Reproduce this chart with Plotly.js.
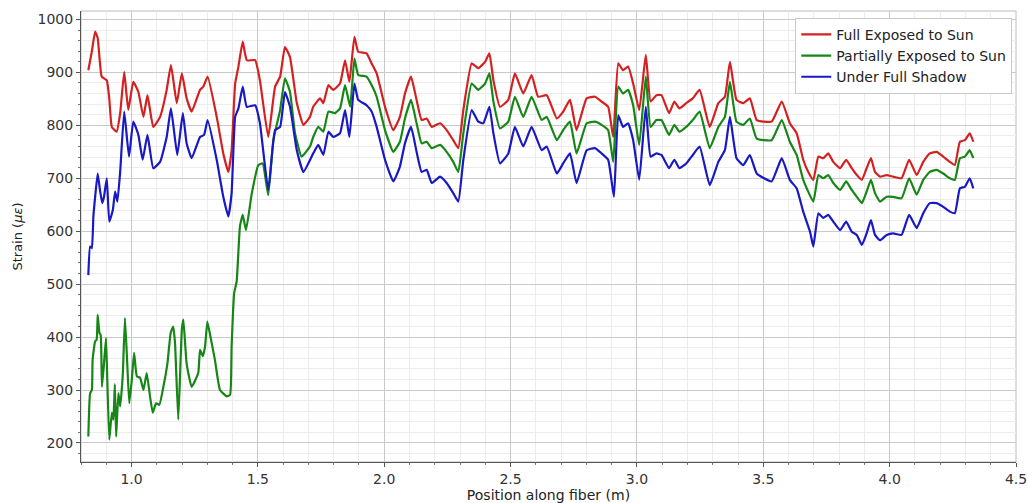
<!DOCTYPE html>
<html>
<head>
<meta charset="utf-8">
<script src="https://cdn.plot.ly/plotly-3.0.1.min.js"></script>
<style>
  html, body { margin: 0; padding: 0; background: #ffffff; }
  #chart { width: 1028px; height: 503px; }
</style>
</head>
<body>
<div id="chart"></div>
<script>
// ---- Data ----
const seriesNames = ["Full Exposed to Sun", "Partially Exposed to Sun", "Under Full Shadow"];

const xFull = [0.829,0.843,0.856,0.866,0.882,0.902,0.912,0.922,0.941,0.955,0.971,0.987,1.007,1.027,1.047,1.063,1.086,1.113,1.139,1.156,1.179,1.199,1.218,1.238,1.271,1.284,1.301,1.337,1.363,1.383,1.396,1.410,1.423,1.440,1.456,1.489,1.508,1.541,1.568,1.588,1.607,1.627,1.654,1.680,1.706,1.719,1.746,1.759,1.779,1.798,1.825,1.845,1.862,1.882,1.897,1.930,1.950,1.970,2.003,2.036,2.062,2.082,2.106,2.128,2.148,2.168,2.188,2.221,2.247,2.273,2.293,2.313,2.346,2.372,2.399,2.416,2.432,2.458,2.491,2.517,2.550,2.583,2.609,2.643,2.683,2.708,2.735,2.761,2.801,2.834,2.860,2.886,2.906,2.926,2.945,2.965,2.985,3.009,3.035,3.054,3.077,3.097,3.127,3.148,3.168,3.195,3.221,3.248,3.288,3.322,3.348,3.368,3.394,3.421,3.447,3.474,3.533,3.573,3.605,3.632,3.658,3.678,3.698,3.718,3.737,3.757,3.777,3.804,3.828,3.850,3.870,3.890,3.909,3.926,3.942,3.962,3.988,4.014,4.047,4.077,4.107,4.133,4.159,4.186,4.212,4.238,4.258,4.278,4.298,4.317,4.331];
const yFull = [904,940,977,965,892,885,850,797,788,823,901,829,882,863,816,857,797,816,867,914,842,898,851,826,867,873,892,816,747,712,753,879,911,958,923,923,885,778,873,892,948,929,842,801,816,835,851,842,876,867,879,923,882,967,939,936,917,898,835,791,816,860,892,848,810,813,797,804,791,772,757,829,917,908,920,936,885,835,848,898,860,895,854,857,813,826,848,791,851,854,845,835,778,917,904,911,879,829,933,845,857,857,823,845,832,842,851,867,797,842,854,920,848,842,851,810,807,845,804,785,735,712,697,741,738,747,731,719,735,719,706,697,719,738,712,703,706,703,700,735,706,731,747,750,741,731,725,769,772,785,769];

const xPartial = [0.829,0.836,0.843,0.846,0.856,0.862,0.866,0.873,0.878,0.883,0.891,0.899,0.904,0.912,0.922,0.928,0.934,0.939,0.948,0.955,0.965,0.974,0.983,0.991,1.001,1.010,1.021,1.034,1.047,1.060,1.073,1.084,1.097,1.110,1.126,1.142,1.155,1.165,1.172,1.185,1.199,1.205,1.218,1.238,1.264,1.271,1.282,1.291,1.300,1.317,1.330,1.350,1.377,1.390,1.396,1.406,1.416,1.429,1.440,1.453,1.476,1.502,1.519,1.541,1.561,1.588,1.607,1.627,1.647,1.673,1.706,1.719,1.739,1.759,1.779,1.805,1.825,1.845,1.865,1.882,1.897,1.930,1.950,1.970,2.003,2.036,2.062,2.082,2.106,2.128,2.148,2.168,2.188,2.221,2.247,2.273,2.293,2.313,2.346,2.372,2.399,2.416,2.432,2.458,2.491,2.517,2.550,2.583,2.623,2.643,2.683,2.708,2.735,2.761,2.801,2.834,2.860,2.886,2.906,2.926,2.945,2.965,2.985,3.009,3.035,3.054,3.077,3.097,3.127,3.148,3.168,3.195,3.221,3.248,3.288,3.322,3.348,3.368,3.394,3.421,3.447,3.474,3.533,3.573,3.605,3.632,3.658,3.698,3.718,3.737,3.757,3.777,3.804,3.828,3.850,3.870,3.890,3.909,3.926,3.942,3.962,3.988,4.014,4.047,4.077,4.107,4.133,4.159,4.186,4.212,4.238,4.258,4.278,4.298,4.317,4.331];
const yPartial = [212,294,300,357,392,395,442,408,404,306,350,398,319,206,257,244,311,212,294,269,326,436,350,275,319,370,326,323,300,332,288,257,275,272,306,350,408,420,389,244,414,433,350,306,332,376,364,382,429,389,357,300,288,291,382,483,505,609,631,602,672,725,728,668,772,829,889,863,785,741,760,778,797,788,826,823,832,876,835,926,895,892,876,854,791,750,769,813,848,804,766,769,757,763,750,731,712,785,879,867,879,898,845,794,807,854,816,854,810,816,772,791,807,747,804,807,801,791,731,873,860,867,838,763,892,797,810,810,782,801,788,797,810,826,757,797,816,882,807,801,813,775,772,810,769,744,697,656,706,700,706,691,678,694,678,665,653,675,697,672,656,665,665,662,700,669,697,712,716,709,700,697,738,741,753,738];

const xShadow = [0.829,0.836,0.843,0.849,0.856,0.866,0.875,0.884,0.891,0.902,0.912,0.926,0.935,0.944,0.955,0.971,0.990,1.007,1.027,1.044,1.063,1.086,1.113,1.139,1.156,1.181,1.203,1.218,1.238,1.271,1.287,1.301,1.337,1.363,1.383,1.396,1.410,1.423,1.440,1.456,1.489,1.508,1.541,1.568,1.588,1.607,1.627,1.654,1.680,1.719,1.739,1.759,1.779,1.798,1.825,1.845,1.862,1.882,1.897,1.930,1.950,1.970,2.003,2.036,2.062,2.082,2.106,2.128,2.148,2.168,2.188,2.221,2.247,2.273,2.293,2.313,2.346,2.372,2.392,2.416,2.432,2.458,2.491,2.517,2.550,2.583,2.623,2.643,2.683,2.708,2.735,2.761,2.801,2.834,2.860,2.886,2.909,2.926,2.945,2.965,2.985,3.009,3.035,3.054,3.077,3.097,3.127,3.148,3.168,3.195,3.221,3.248,3.288,3.322,3.348,3.368,3.394,3.421,3.447,3.474,3.533,3.573,3.605,3.632,3.658,3.685,3.698,3.718,3.737,3.757,3.777,3.804,3.828,3.850,3.870,3.890,3.909,3.926,3.942,3.962,3.988,4.014,4.047,4.077,4.107,4.133,4.159,4.186,4.212,4.238,4.258,4.278,4.298,4.317,4.331];
const yShadow = [517,571,568,628,665,709,678,653,665,700,618,640,675,656,712,826,741,807,782,735,782,719,731,778,832,744,823,766,738,778,782,810,735,665,628,672,816,832,873,835,838,804,678,791,797,863,835,753,712,747,763,744,788,778,785,829,778,879,848,838,826,797,735,694,722,766,797,750,712,716,691,703,691,672,656,735,829,807,804,835,785,728,747,797,760,797,753,760,709,728,747,691,753,757,747,735,665,819,797,804,772,697,835,741,747,744,719,735,719,728,744,760,687,731,753,816,738,725,744,709,694,738,697,681,637,599,571,634,625,631,618,602,618,599,593,574,596,621,593,583,593,596,593,631,606,634,653,653,646,637,634,681,684,700,681];

const xTickVals = [1.0, 1.5, 2.0, 2.5, 3.0, 3.5, 4.0, 4.5];
const yTickVals = [200, 300, 400, 500, 600, 700, 800, 900, 1000];

const colors = ["#d42020", "#168616", "#1818c4"];

// ---- Chart ----
const traces = [
  { x: xFull, y: yFull, name: seriesNames[0] },
  { x: xPartial, y: yPartial, name: seriesNames[1] },
  { x: xShadow, y: yShadow, name: seriesNames[2] }
].map((t, i) => Object.assign(t, {
  type: "scatter", mode: "lines",
  line: { color: colors[i], width: 2.2, shape: "spline", smoothing: 0.4 }
}));

const font = "DejaVu Sans, sans-serif";

const layout = {
  width: 1028, height: 503,
  margin: { l: 81, r: 12, t: 11, b: 41 },
  paper_bgcolor: "#ffffff",
  plot_bgcolor: "#ffffff",
  font: { family: font, size: 14, color: "#333333" },
  showlegend: true,
  legend: {
    x: 0.996, y: 0.985, xanchor: "right", yanchor: "top",
    bgcolor: "#ffffff", bordercolor: "#c8c8c8", borderwidth: 1,
    font: { family: font, size: 14, color: "#222222" },
    tracegroupgap: 0
  },
  xaxis: {
    range: [0.8, 4.5],
    tickvals: xTickVals,
    ticktext: xTickVals.map(v => v.toFixed(1)),
    ticks: "outside", ticklen: 4, tickcolor: "#555555",
    showline: true, linecolor: "#555555", linewidth: 1,
    showgrid: true, gridcolor: "#c9c9c9", gridwidth: 1,
    zeroline: false,
    tickfont: { family: font, size: 14, color: "#333333" },
    minor: { dtick: 0.1, ticks: "outside", ticklen: 2, tickcolor: "#777777", showgrid: true, gridcolor: "#ececec", gridwidth: 1 },
    title: { text: "Position along fiber (m)", font: { family: font, size: 14, color: "#222222" }, standoff: 2 }
  },
  yaxis: {
    range: [164, 1016],
    tickvals: yTickVals,
    ticks: "outside", ticklen: 4, tickcolor: "#555555",
    showline: true, linecolor: "#555555", linewidth: 1,
    showgrid: true, gridcolor: "#c9c9c9", gridwidth: 1,
    zeroline: false,
    tickfont: { family: font, size: 14, color: "#333333" },
    minor: { dtick: 20, ticks: "outside", ticklen: 2, tickcolor: "#777777", showgrid: true, gridcolor: "#ececec", gridwidth: 1 },
    title: { text: "Strain (<i>με</i>)", font: { family: font, size: 13, color: "#222222" }, standoff: 12 }
  },
  shapes: [{
    type: "rect", xref: "paper", yref: "paper", x0: 0, x1: 1, y0: 0, y1: 1,
    line: { color: "#bbbbbb", width: 1 }, fillcolor: "rgba(0,0,0,0)", layer: "below"
  }]
};

Plotly.newPlot("chart", traces, layout, { displayModeBar: false, staticPlot: true });
</script>
</body>
</html>
